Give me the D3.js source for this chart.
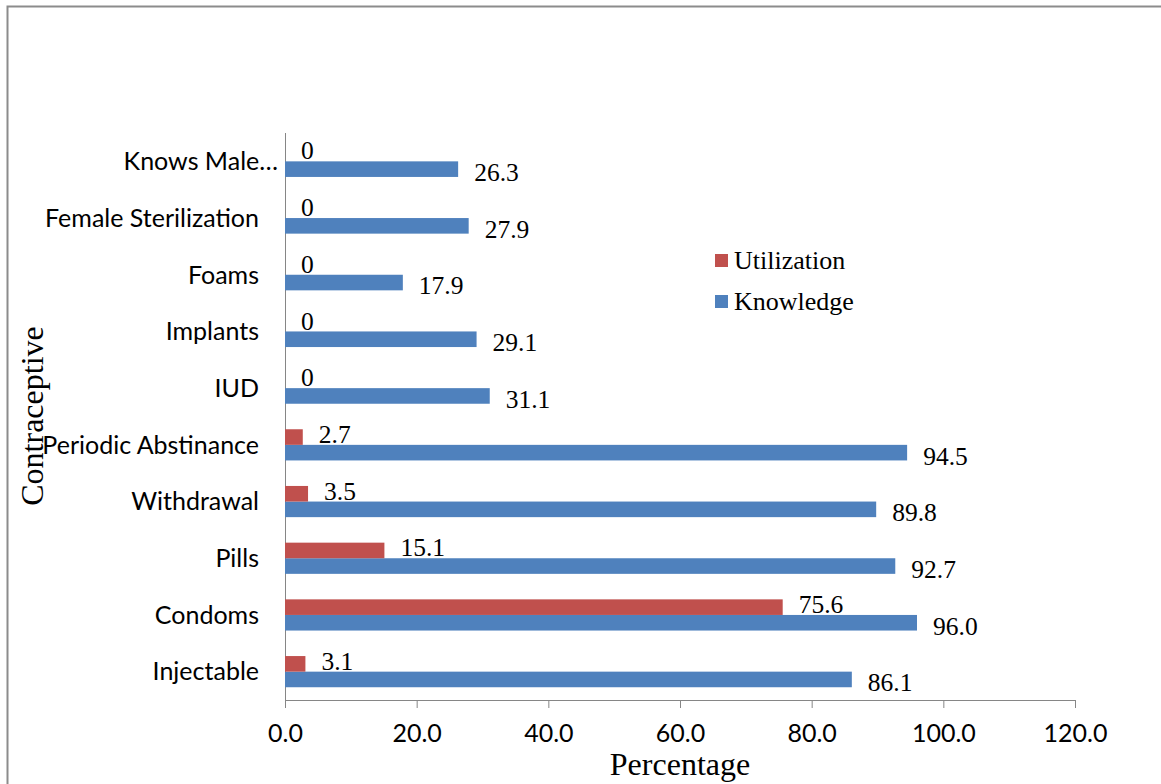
<!DOCTYPE html>
<html>
<head>
<meta charset="utf-8">
<script src="https://cdn.jsdelivr.net/npm/d3@7"></script>
<style>
  body { margin: 0; background: #fff; }
</style>
</head>
<body>
<div id="chart"></div>
<script>
// categories top to bottom
var categories = ["Knows Male\u2026", "Female Sterilization", "Foams", "Implants", "IUD",
    "Periodic Abstinance", "Withdrawal", "Pills", "Condoms", "Injectable"];
var utilization = [0, 0, 0, 0, 0, 2.7, 3.5, 15.1, 75.6, 3.1];
var utilizationLabels = ["0", "0", "0", "0", "0", "2.7", "3.5", "15.1", "75.6", "3.1"];
var knowledge = [26.3, 27.9, 17.9, 29.1, 31.1, 94.5, 89.8, 92.7, 96.0, 86.1];
var xTicks = [0, 20, 40, 60, 80, 100, 120];

function init() {
    var w = 1161;
    var h = 784;
    var left = 285, right = 1075, top = 133, bottom = 700;
    var sans = "Lato, Open Sans, sans-serif";
    var serif = "Liberation Serif, Times New Roman, serif";

    var svg = d3.select("#chart")
        .append("svg")
        .attr("width", w)
        .attr("height", h);

    // outer frame
    svg.append("path")
        .attr("d", "M7.5," + h + "V6.5H" + w)
        .attr("fill", "none")
        .attr("stroke", "#8c8c8c")
        .attr("stroke-width", 2);

    var xScale = d3.scaleLinear()
        .domain([0, 120])
        .range([left, right]);

    var yScale = d3.scaleBand()
        .domain(categories)
        .range([top, bottom])
        .paddingInner(0.45)
        .paddingOuter(0.225);

    var sub = d3.scaleBand()
        .domain(["u", "k"])
        .range([0, yScale.bandwidth()]);

    // x axis
    var xAxis = svg.append("g")
        .attr("transform", "translate(0," + bottom + ")")
        .call(d3.axisBottom(xScale)
            .tickValues(xTicks)
            .tickSize(8)
            .tickFormat(function(d) { return d.toFixed(1); }));
    xAxis.select(".domain").attr("stroke", "#868686");
    xAxis.selectAll(".tick line").attr("stroke", "#868686");
    xAxis.selectAll(".tick text")
        .attr("font-family", sans)
        .attr("font-size", "25px")
        .attr("fill", "#000")
        .attr("dy", "1.22em");

    // y axis line
    svg.append("line")
        .attr("x1", left + 0.5).attr("x2", left + 0.5)
        .attr("y1", top).attr("y2", bottom)
        .attr("stroke", "#868686");

    // category labels (truncated label has no trailing gap)
    svg.selectAll(".cat")
        .data(categories)
        .enter()
        .append("text")
        .attr("class", "cat")
        .attr("x", function(d) { return d.slice(-1) === "\u2026" ? 278 : 259; })
        .attr("y", function(d) { return yScale(d) - yScale.step() * 0.225 + yScale.step() / 2; })
        .attr("dy", "0.35em")
        .attr("text-anchor", "end")
        .attr("font-family", sans)
        .attr("font-size", "25px")
        .attr("fill", "#000")
        .text(function(d) { return d; });

    // knowledge bars
    svg.selectAll(".kbar")
        .data(categories)
        .enter()
        .append("rect")
        .attr("x", xScale(0))
        .attr("y", function(d) { return yScale(d) + sub("k"); })
        .attr("width", function(d, i) { return xScale(knowledge[i]) - xScale(0); })
        .attr("height", sub.bandwidth())
        .attr("fill", "#4f81bd");

    // utilization bars
    svg.selectAll(".ubar")
        .data(categories)
        .enter()
        .append("rect")
        .attr("x", xScale(0))
        .attr("y", function(d) { return yScale(d) + sub("u"); })
        .attr("width", function(d, i) { return xScale(utilization[i]) - xScale(0); })
        .attr("height", sub.bandwidth())
        .attr("fill", "#c0504d");

    // value labels
    svg.selectAll(".klab")
        .data(categories)
        .enter()
        .append("text")
        .attr("x", function(d, i) { return xScale(knowledge[i]) + 16; })
        .attr("y", function(d) { return yScale(d) + sub("k") + sub.bandwidth() / 2 + 3; })
        .attr("dy", "0.35em")
        .attr("font-family", serif)
        .attr("font-size", "25.5px")
        .attr("fill", "#000")
        .text(function(d, i) { return knowledge[i].toFixed(1); });

    svg.selectAll(".ulab")
        .data(categories)
        .enter()
        .append("text")
        .attr("x", function(d, i) { return xScale(utilization[i]) + 16; })
        .attr("y", function(d) { return yScale(d) + sub("u") + sub.bandwidth() / 2 - 3; })
        .attr("dy", "0.35em")
        .attr("font-family", serif)
        .attr("font-size", "25.5px")
        .attr("fill", "#000")
        .text(function(d, i) { return utilizationLabels[i]; });

    // legend
    var legend = [["Utilization", "#c0504d"], ["Knowledge", "#4f81bd"]];
    var lg = svg.selectAll(".leg")
        .data(legend)
        .enter()
        .append("g")
        .attr("transform", function(d, i) { return "translate(715," + (260 + i * 41) + ")"; });
    lg.append("rect")
        .attr("x", 0).attr("y", -6)
        .attr("width", 13).attr("height", 13)
        .attr("fill", function(d) { return d[1]; });
    lg.append("text")
        .attr("x", 19)
        .attr("dy", "0.35em")
        .attr("font-family", serif)
        .attr("font-size", "26px")
        .attr("fill", "#000")
        .text(function(d) { return d[0]; });

    // axis titles
    svg.append("text")
        .attr("x", (left + right) / 2)
        .attr("y", 775)
        .attr("text-anchor", "middle")
        .attr("font-family", serif)
        .attr("font-size", "32px")
        .attr("fill", "#000")
        .text("Percentage");

    svg.append("text")
        .attr("transform", "translate(43,416) rotate(-90)")
        .attr("text-anchor", "middle")
        .attr("font-family", serif)
        .attr("font-size", "32px")
        .attr("fill", "#000")
        .text("Contraceptive");
}

window.onload = init;
</script>
</body>
</html>
